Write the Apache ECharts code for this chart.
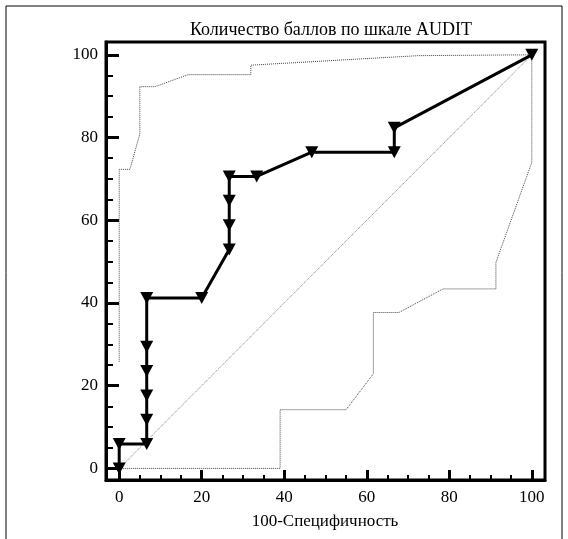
<!DOCTYPE html>
<html>
<head>
<meta charset="utf-8">
<script src="https://cdn.jsdelivr.net/npm/echarts@6/dist/echarts.min.js"></script>
<style>
html,body{margin:0;padding:0;background:#fff;}
#chart{width:568px;height:539px;}
</style>
</head>
<body>
<div id="chart"></div>
<script>
// ---- Data ----
var titleText = 'Количество баллов по шкале AUDIT';
var xAxisName = '100-Специфичность';
var majorTicks = [0, 20, 40, 60, 80, 100];
var minorTicks = [5, 10, 15, 25, 30, 35, 45, 50, 55, 65, 70, 75, 85, 90, 95];

// ROC curve points [100-specificity, sensitivity]
var rocPoints = [
  [0, 0], [0, 5.88], [6.67, 5.88], [6.67, 11.76], [6.67, 17.65], [6.67, 23.53],
  [6.67, 29.41], [6.67, 41.18], [20, 41.18], [26.67, 52.94], [26.67, 58.82],
  [26.67, 64.71], [26.67, 70.59], [33.33, 70.59], [46.67, 76.47], [66.67, 76.47],
  [66.67, 82.35], [100, 100]
];
// Upper confidence band
var upperBand = [
  [0, 25.8], [0, 72.3], [2.6, 72.3], [5.0, 80.9], [5.0, 92.3], [8.7, 92.3],
  [16.7, 95.2], [31.9, 95.2], [31.9, 97.5], [72.5, 99.8], [100, 100]
];
// Lower confidence band
var lowerBand = [
  [0, 0], [39, 0], [39, 14.2], [55, 14.2], [61.6, 22.9], [61.6, 37.7],
  [67.8, 37.7], [78.5, 43.4], [91.3, 43.4], [91.3, 49.8], [100, 74], [100, 100]
];
// Diagonal reference line
var diagonal = [[0, 0], [100, 100]];

// ---- Chart ----
var FONT = 'Liberation Serif';
var chart = echarts.init(document.getElementById('chart'), null, {renderer: 'canvas'});

var option = {
  animation: false,
  backgroundColor: '#fff',
  title: {
    text: titleText, left: 326, top: 16, textAlign: 'center',
    textStyle: {fontFamily: FONT, fontSize: 18, fontWeight: 'normal', color: '#000'}
  },
  grid: {
    left: 106, right: 23, top: 42, bottom: 59,
    show: true, borderColor: '#000', borderWidth: 3, backgroundColor: 'transparent'
  },
  graphic: [
    {type: 'line', shape: {x1: 6, y1: 6, x2: 6, y2: 539}, style: {stroke: '#000', lineWidth: 1}},
    {type: 'line', shape: {x1: 6, y1: 6, x2: 562, y2: 6}, style: {stroke: '#000', lineWidth: 1}},
    {type: 'line', shape: {x1: 562, y1: 6, x2: 562, y2: 539}, style: {stroke: '#000', lineWidth: 1}},
    {type: 'text', x: 325, y: 522,
      style: {text: xAxisName, font: '17px "Liberation Serif"', fill: '#000', align: 'center', verticalAlign: 'middle'}}
  ],
  xAxis: [
    {
      type: 'value', position: 'bottom', min: -3.2, max: 103.2,
      axisLine: {show: true, onZero: false, lineStyle: {color: '#000', width: 3}},
      axisTick: {show: true, inside: true, length: 10, customValues: majorTicks, lineStyle: {color: '#000', width: 3}},
      axisLabel: {customValues: majorTicks, color: '#000', fontFamily: FONT, fontSize: 17, margin: 9},
      splitLine: {show: false}
    },
    {
      type: 'value', position: 'bottom', min: -3.2, max: 103.2,
      axisLine: {show: false, onZero: false},
      axisTick: {show: true, inside: true, length: 5, customValues: minorTicks, lineStyle: {color: '#000', width: 2}},
      axisLabel: {show: false},
      splitLine: {show: false}
    }
  ],
  yAxis: [
    {
      type: 'value', position: 'left', min: -2.8, max: 103.1,
      axisLine: {show: true, onZero: false, lineStyle: {color: '#000', width: 3}},
      axisTick: {show: true, inside: true, length: 13, customValues: majorTicks, lineStyle: {color: '#000', width: 3}},
      axisLabel: {customValues: majorTicks, color: '#000', fontFamily: FONT, fontSize: 17, margin: 8},
      splitLine: {show: false}
    },
    {
      type: 'value', position: 'left', min: -2.8, max: 103.1,
      axisLine: {show: false, onZero: false},
      axisTick: {show: true, inside: true, length: 7, customValues: minorTicks, lineStyle: {color: '#000', width: 2}},
      axisLabel: {show: false},
      splitLine: {show: false}
    }
  ],
  series: [
    {
      type: 'line', data: diagonal, xAxisIndex: 0, yAxisIndex: 0, symbol: 'none', z: 1,
      lineStyle: {color: '#777', width: 1, type: [1, 1]}
    },
    {
      type: 'line', data: upperBand, xAxisIndex: 0, yAxisIndex: 0, symbol: 'none', z: 1,
      lineStyle: {color: '#444', width: 1, type: [1, 1]}
    },
    {
      type: 'line', data: lowerBand, xAxisIndex: 0, yAxisIndex: 0, symbol: 'none', z: 1,
      lineStyle: {color: '#444', width: 1, type: [1, 1]}
    },
    {
      type: 'line', data: rocPoints, xAxisIndex: 0, yAxisIndex: 0, z: 5,
      symbol: 'triangle', symbolRotate: 180, symbolSize: [13, 12], showAllSymbol: true,
      itemStyle: {color: '#000', borderWidth: 0},
      lineStyle: {color: '#000', width: 3}
    }
  ]
};
chart.setOption(option);
</script>
</body>
</html>
